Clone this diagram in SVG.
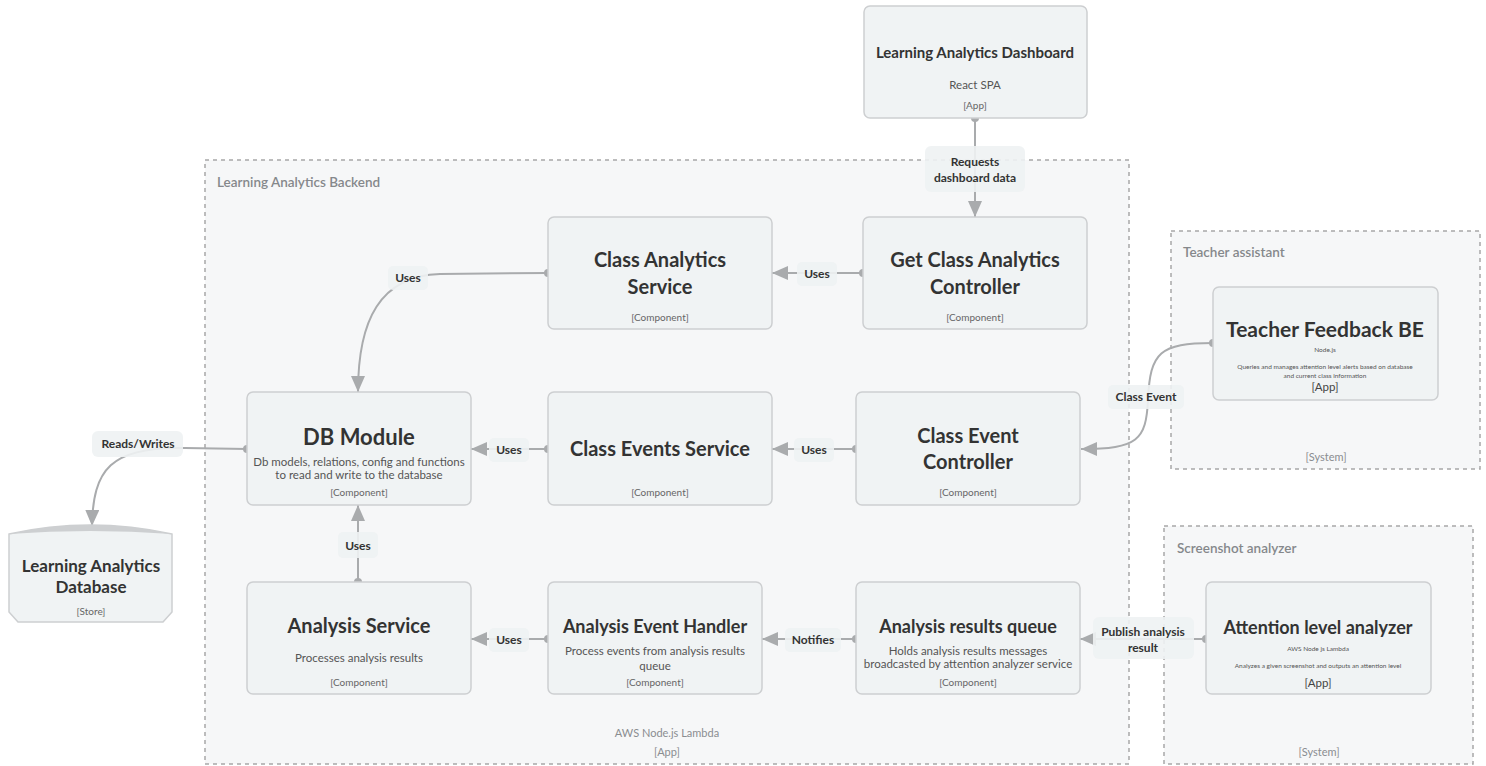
<svg xmlns="http://www.w3.org/2000/svg" width="1486" height="766" viewBox="0 0 1486 766">
<defs>
<style>
text{font-family:Lato,"Noto Sans","Liberation Sans",sans-serif;text-anchor:middle}
.bnd{fill:#f6f7f8;stroke:#a8a8a8;stroke-width:1.5;stroke-dasharray:4 4}
.bl{font-size:13.5px;font-weight:600;fill:#85888b;text-anchor:start}
.bt{font-size:11px;fill:#8a8d90}
.node rect.b{fill:#f0f3f4;stroke:#cdcfd1;stroke-width:1.5}
.t{font-weight:bold;fill:#333}
.d{font-size:11.5px;fill:#555}
.s{font-size:13px;fill:#555}
.tag{font-size:10px;fill:#666}
.tag2{font-size:11.5px;fill:#444}
.e{fill:none;stroke:#a9abad;stroke-width:2}
.dot{fill:#a9abad}
.lb{fill:#eef2f3;opacity:0.9}
.el{font-size:12px;font-weight:bold;fill:#333}
</style>
<marker id="ah" viewBox="0 0 16 14" refX="16" refY="7" markerWidth="16" markerHeight="14" markerUnits="userSpaceOnUse" orient="auto">
<path d="M0,0 L16,7 L0,14 z" fill="#a9abad"/>
</marker>
</defs>
<rect width="1486" height="766" fill="#ffffff"/>

<g id="boundary-backend">
<rect class="bnd" x="205" y="160" width="924" height="604"/>
<text class="bl" x="217" y="187">Learning Analytics Backend</text>
<text class="bt" x="667" y="737">AWS Node.js Lambda</text>
<text class="bt" x="667" y="756">[App]</text>
</g>
<g id="boundary-teacher">
<rect class="bnd" x="1171" y="231" width="309" height="238"/>
<text class="bl" x="1183" y="257">Teacher assistant</text>
<text class="bt" x="1326" y="461">[System]</text>
</g>
<g id="boundary-screenshot">
<rect class="bnd" x="1164" y="526" width="309" height="238"/>
<text class="bl" x="1177" y="553">Screenshot analyzer</text>
<text class="bt" x="1319" y="756">[System]</text>
</g>

<g id="connectors">
<path class="e" d="M975,118 L975,217" marker-end="url(#ah)"/>
<circle class="dot" cx="975" cy="118" r="4"/>
<rect class="lb" x="925" y="146" width="100" height="46" rx="6"/>
<text class="el" x="975" y="166">Requests</text>
<text class="el" x="975" y="182">dashboard data</text>

<path class="e" d="M863,273 L772,273" marker-end="url(#ah)"/>
<circle class="dot" cx="863" cy="273" r="4"/>
<rect class="lb" x="797" y="262" width="40" height="24" rx="5"/>
<text class="el" x="817" y="278">Uses</text>

<path class="e" d="M548,273 L440,274 C380,276 358,320 358,392" marker-end="url(#ah)"/>
<circle class="dot" cx="548" cy="273" r="4"/>
<rect class="lb" x="388" y="266" width="40" height="24" rx="5"/>
<text class="el" x="408" y="282">Uses</text>

<path class="e" d="M856,449 L772,449" marker-end="url(#ah)"/>
<circle class="dot" cx="856" cy="449" r="4"/>
<rect class="lb" x="794" y="438" width="40" height="24" rx="5"/>
<text class="el" x="814" y="454">Uses</text>

<path class="e" d="M548,449 L471,449" marker-end="url(#ah)"/>
<circle class="dot" cx="548" cy="449" r="4"/>
<rect class="lb" x="489" y="438" width="40" height="24" rx="5"/>
<text class="el" x="509" y="454">Uses</text>

<path class="e" d="M1213,343 C1160,343 1150,352 1148,400 C1146,440 1138,449 1081,449" marker-end="url(#ah)"/>
<circle class="dot" cx="1213" cy="343" r="4"/>
<rect class="lb" x="1108" y="385" width="76" height="24" rx="5"/>
<text class="el" x="1146" y="401">Class Event</text>

<path class="e" d="M247,449 L185,448 C110,446 93,470 92,526" marker-end="url(#ah)"/>
<circle class="dot" cx="247" cy="449" r="4"/>
<rect class="lb" x="92" y="431" width="91" height="26" rx="6"/>
<text class="el" x="138" y="448">Reads/Writes</text>

<path class="e" d="M358,582 L358,505" marker-end="url(#ah)"/>
<circle class="dot" cx="358" cy="582" r="4"/>
<rect class="lb" x="338" y="532" width="40" height="26" rx="5"/>
<text class="el" x="358" y="550">Uses</text>

<path class="e" d="M548,639 L471,639" marker-end="url(#ah)"/>
<circle class="dot" cx="548" cy="639" r="4"/>
<rect class="lb" x="489" y="628" width="40" height="24" rx="5"/>
<text class="el" x="509" y="644">Uses</text>

<path class="e" d="M856,639 L762,639" marker-end="url(#ah)"/>
<circle class="dot" cx="856" cy="639" r="4"/>
<rect class="lb" x="785" y="628" width="56" height="24" rx="5"/>
<text class="el" x="813" y="644">Notifies</text>

<path class="e" d="M1206,639 L1080,639" marker-end="url(#ah)"/>
<circle class="dot" cx="1206" cy="639" r="4"/>
<rect class="lb" x="1093" y="617" width="101" height="42" rx="6"/>
<text class="el" x="1143" y="636">Publish analysis</text>
<text class="el" x="1143" y="652">result</text>
</g>

<g id="dashboard" class="node">
<rect class="b" x="864" y="6" width="223" height="112" rx="6"/>
<text class="t" x="975" y="58" font-size="15">Learning Analytics Dashboard</text>
<text class="d" x="975" y="89">React SPA</text>
<text class="tag" x="975" y="109">[App]</text>
</g>

<g id="class-analytics-service" class="node">
<rect class="b" x="548" y="217" width="224" height="112" rx="6"/>
<text class="t" x="660" y="267" font-size="20">Class Analytics</text>
<text class="t" x="660" y="294" font-size="20">Service</text>
<text class="tag" x="660" y="321">[Component]</text>
</g>

<g id="get-class-analytics-controller" class="node">
<rect class="b" x="863" y="217" width="224" height="112" rx="6"/>
<text class="t" x="975" y="267" font-size="20">Get Class Analytics</text>
<text class="t" x="975" y="294" font-size="20">Controller</text>
<text class="tag" x="975" y="321">[Component]</text>
</g>

<g id="db-module" class="node">
<rect class="b" x="247" y="392" width="224" height="113" rx="6"/>
<text class="t" x="359" y="445" font-size="22">DB Module</text>
<text class="d" x="359" y="466" font-size="11">Db models, relations, config and functions</text>
<text class="d" x="359" y="479" font-size="11">to read and write to the database</text>
<text class="tag" x="359" y="496">[Component]</text>
</g>

<g id="class-events-service" class="node">
<rect class="b" x="548" y="392" width="224" height="113" rx="6"/>
<text class="t" x="660" y="456" font-size="20">Class Events Service</text>
<text class="tag" x="660" y="496">[Component]</text>
</g>

<g id="class-event-controller" class="node">
<rect class="b" x="856" y="392" width="224" height="113" rx="6"/>
<text class="t" x="968" y="443" font-size="20">Class Event</text>
<text class="t" x="968" y="469" font-size="20">Controller</text>
<text class="tag" x="968" y="496">[Component]</text>
</g>

<g id="analysis-service" class="node">
<rect class="b" x="247" y="582" width="224" height="112" rx="6"/>
<text class="t" x="359" y="633" font-size="20">Analysis Service</text>
<text class="d" x="359" y="662">Processes analysis results</text>
<text class="tag" x="359" y="686">[Component]</text>
</g>

<g id="analysis-event-handler" class="node">
<rect class="b" x="548" y="582" width="214" height="112" rx="6"/>
<text class="t" x="655" y="633" font-size="18">Analysis Event Handler</text>
<text class="d" x="655" y="655">Process events from analysis results</text>
<text class="d" x="655" y="670">queue</text>
<text class="tag" x="655" y="686">[Component]</text>
</g>

<g id="analysis-results-queue" class="node">
<rect class="b" x="856" y="582" width="224" height="112" rx="6"/>
<text class="t" x="968" y="633" font-size="18">Analysis results queue</text>
<text class="d" x="968" y="655" font-size="11">Holds analysis results messages</text>
<text class="d" x="968" y="668" font-size="11">broadcasted by attention analyzer service</text>
<text class="tag" x="968" y="686">[Component]</text>
</g>

<g id="teacher-feedback-be" class="node">
<rect class="b" x="1213" y="287" width="225" height="113" rx="6"/>
<text class="t" x="1325" y="337" font-size="21">Teacher Feedback BE</text>
<text class="s" transform="translate(1325,352) scale(0.5)">Node.js</text>
<text class="s" transform="translate(1325,369) scale(0.5)">Queries and manages attention level alerts based on database</text>
<text class="s" transform="translate(1325,378) scale(0.5)">and current class information</text>
<text class="tag2" x="1325" y="391">[App]</text>
</g>

<g id="attention-level-analyzer" class="node">
<rect class="b" x="1206" y="582" width="225" height="112" rx="6"/>
<text class="t" x="1318" y="634" font-size="18">Attention level analyzer</text>
<text class="s" transform="translate(1318,651) scale(0.5)">AWS Node js Lambda</text>
<text class="s" transform="translate(1318,668) scale(0.5)">Analyzes a given screenshot and outputs an attention level</text>
<text class="tag2" x="1318" y="687">[App]</text>
</g>

<g id="learning-analytics-database" class="node">
<path d="M9,534 Q90,516 172,534 L172,612 L163,622 L18,622 L9,612 Z" fill="#f0f3f4" stroke="#cdcfd1" stroke-width="1.5"/>
<path d="M9,534 Q90,516 172,534 Q90,528 9,534 Z" fill="#cdcfd1"/>
<text class="t" x="91" y="572" font-size="17">Learning Analytics</text>
<text class="t" x="91" y="593" font-size="17">Database</text>
<text class="tag" x="91" y="615">[Store]</text>
</g>
</svg>
